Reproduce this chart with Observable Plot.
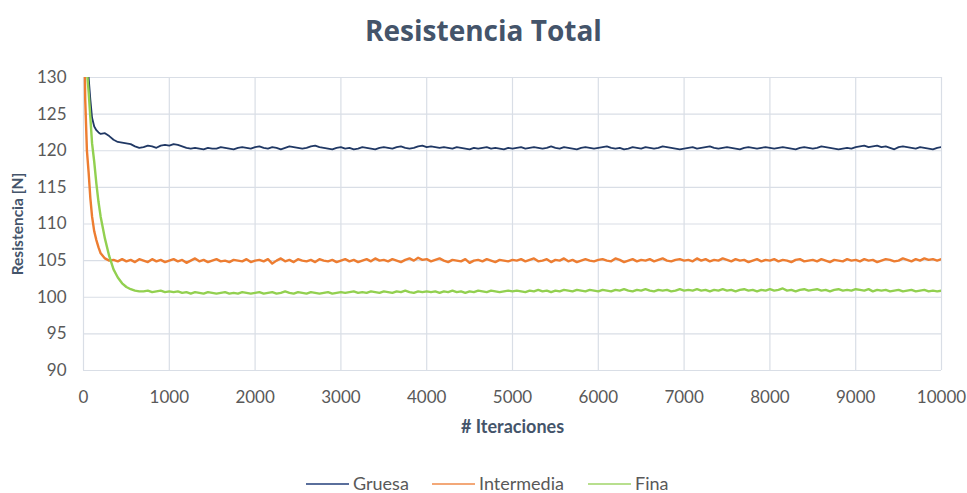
<!DOCTYPE html>
<html>
<head>
<meta charset="utf-8">
<script src="https://cdn.jsdelivr.net/npm/d3@7"></script>
<script src="https://cdn.jsdelivr.net/npm/@observablehq/plot@0.6"></script>
<style>
  html, body { margin: 0; padding: 0; background: #ffffff; }
  #wrap { position: relative; width: 967px; height: 493px; overflow: hidden; font-family: Lato, "Open Sans", sans-serif; }
  #title { position: absolute; top: 10px; left: 0; width: 967px; text-align: center; font-family: "Open Sans", Lato, sans-serif; font-weight: 700; font-size: 28px; line-height: 40px; color: #44546a; }
  #chart { position: absolute; top: 60px; left: 0; }
  .leg { position: absolute; top: 472px; height: 22px; line-height: 22px; font-size: 18px; color: #595959; white-space: nowrap; }
  .leg .sw { display: inline-block; width: 43px; height: 2px; vertical-align: middle; margin-right: 4px; position: relative; top: -1px; }
</style>
</head>
<body>
<div id="wrap">
  <div id="title">Resistencia Total</div>
  <div id="chart"></div>
  <div class="leg" style="left:306px"><span class="sw" style="background:#5a6f9c"></span>Gruesa</div>
  <div class="leg" style="left:432px"><span class="sw" style="background:#f3a878"></span>Intermedia</div>
  <div class="leg" style="left:588px"><span class="sw" style="background:#b8df8e"></span>Fina</div>
</div>
<script>
// ---- data ----
const seriesNames = ["Gruesa", "Intermedia", "Fina"];
const seriesColors = ["#203864", "#ed7d31", "#92d050"];
const xTicks = [0, 1000, 2000, 3000, 4000, 5000, 6000, 7000, 8000, 9000, 10000];
const yTicks = [90, 95, 100, 105, 110, 115, 120, 125, 130];

// iteration sampling: dense during the initial decay, then every 50 iterations
const iterEarly = [0, 20, 40, 60, 80, 100, 125, 150, 175, 200, 250, 300, 350, 400, 450, 500, 550, 600, 650];
const iterStable = d3.range(700, 10001, 50);

const gruesaEarly = [150, 142, 135, 130, 127, 124.5, 123.3, 122.8, 122.5, 122.3, 122.4, 122.0, 121.5, 121.2, 121.1, 121.0, 120.9, 120.6, 120.4];
const gruesaStable = [
  120.5, 120.7, 120.6, 120.4, 120.7, 120.8, 120.7,
  120.9, 120.8, 120.6, 120.4, 120.3, 120.4, 120.3, 120.2, 120.4, 120.3, 120.3, 120.5, 120.4, 120.3, 120.2, 120.4, 120.5, 120.4, 120.3, 120.5,
  120.6, 120.4, 120.3, 120.5, 120.4, 120.2, 120.4, 120.6, 120.5, 120.4, 120.3, 120.4, 120.6, 120.7, 120.5, 120.4, 120.3, 120.2, 120.4, 120.5,
  120.3, 120.4, 120.2, 120.3, 120.5, 120.4, 120.3, 120.2, 120.4, 120.5, 120.4, 120.3, 120.5, 120.6, 120.4, 120.3, 120.4, 120.6, 120.7, 120.5,
  120.6, 120.5, 120.4, 120.5, 120.4, 120.3, 120.5, 120.4, 120.3, 120.2, 120.4, 120.3, 120.4, 120.5, 120.3, 120.4, 120.3, 120.2, 120.4, 120.3,
  120.4, 120.5, 120.3, 120.4, 120.5, 120.4, 120.3, 120.4, 120.6, 120.4, 120.3, 120.5, 120.4, 120.3, 120.2, 120.4, 120.5, 120.4, 120.3, 120.4,
  120.5, 120.6, 120.4, 120.3, 120.4, 120.2, 120.3, 120.5, 120.4, 120.3, 120.5, 120.4, 120.3, 120.4, 120.6, 120.5, 120.4, 120.3, 120.2, 120.3,
  120.4, 120.5, 120.3, 120.4, 120.5, 120.6, 120.4, 120.3, 120.4, 120.5, 120.4, 120.3, 120.2, 120.4, 120.5, 120.4, 120.3, 120.4, 120.5, 120.4,
  120.3, 120.4, 120.5, 120.4, 120.3, 120.2, 120.4, 120.5, 120.4, 120.3, 120.4, 120.6, 120.5, 120.4, 120.3, 120.2, 120.3, 120.4, 120.3, 120.5,
  120.6, 120.7, 120.5, 120.6, 120.7, 120.5, 120.6, 120.4, 120.2, 120.5, 120.6, 120.5, 120.4, 120.3, 120.5, 120.4, 120.3, 120.2, 120.4, 120.5
];

const intermediaEarly = [145, 127, 120, 117, 113.5, 111, 109, 107.8, 106.8, 106, 105.3, 105.0, 105.1, 104.9, 105.2, 104.9, 105.1, 104.8, 105.2];
const intermediaStable = [
  105.0, 104.8, 105.2, 104.9, 105.1, 104.8, 105.0,
  105.2, 104.9, 105.1, 104.7, 105.0, 105.3, 104.9, 105.1, 104.8, 105.0, 105.2, 104.9, 105.0, 104.8, 105.1, 105.0, 104.9, 105.2, 104.8, 105.0,
  105.1, 104.9, 105.2, 104.6, 105.0, 105.3, 104.9, 105.1, 104.8, 105.2, 105.0, 104.9, 105.1, 104.8, 105.2, 105.0, 104.9, 105.1, 104.8, 105.0,
  105.2, 104.9, 105.1, 104.8, 105.0, 105.2, 104.9, 105.3, 105.0, 105.1, 104.9, 105.2, 105.0, 104.8, 105.1, 105.3, 105.0, 105.4, 105.1, 105.2,
  104.9, 105.1, 105.3, 105.0, 104.8, 105.1, 105.0, 104.9, 105.2, 104.7, 105.0, 105.1, 104.9, 105.2, 105.0, 104.8, 105.1, 105.0, 104.9, 105.1,
  105.0, 105.2, 104.9, 105.1, 105.3, 104.9, 105.0, 105.2, 104.8, 105.1, 105.0, 105.3, 104.9, 105.1, 104.8, 105.0, 105.2, 105.0, 104.9, 105.1,
  105.2, 105.0, 104.9, 105.3, 105.1, 104.8, 105.0, 105.2, 104.9, 105.1, 105.0, 105.2, 104.9, 105.1, 105.3, 105.0, 104.9, 105.1, 105.2, 105.0,
  105.1, 104.9, 105.3, 105.0, 105.2, 104.9, 105.1, 105.0, 105.3, 105.1, 104.9, 105.2, 105.0, 105.1, 104.8, 105.0, 105.2, 104.9, 105.1, 105.0,
  105.2, 104.9, 105.1, 105.0, 104.8, 105.1, 105.2, 104.9, 105.0, 105.1, 104.9, 105.2, 105.0, 104.8, 105.1, 105.0, 104.9, 105.2, 105.0, 105.1,
  104.9, 105.2, 105.0, 105.1, 104.8, 105.0, 105.2, 105.1, 104.9, 105.0, 105.3, 105.1, 104.9, 105.2, 105.0, 105.3, 105.1, 105.2, 105.0, 105.2
];

const finaEarly = [150, 140, 131, 128, 124.5, 121, 118.5, 115.5, 113, 111, 108, 105.6, 103.8, 102.7, 101.9, 101.4, 101.1, 100.9, 100.8];
const finaStable = [
  100.8, 100.9, 100.7, 100.8, 100.9, 100.7, 100.8,
  100.7, 100.8, 100.6, 100.7, 100.5, 100.7, 100.6, 100.5, 100.7, 100.6, 100.5, 100.6, 100.7, 100.5, 100.6, 100.5, 100.7, 100.6, 100.5, 100.6,
  100.7, 100.5, 100.6, 100.7, 100.5, 100.6, 100.8, 100.6, 100.5, 100.7, 100.6, 100.5, 100.7, 100.6, 100.5, 100.6, 100.7, 100.5, 100.6, 100.7,
  100.6, 100.7, 100.8, 100.6, 100.7, 100.6, 100.8, 100.7, 100.6, 100.8, 100.7, 100.6, 100.8, 100.7, 100.9, 100.7, 100.6, 100.8, 100.7, 100.8,
  100.7, 100.8, 100.6, 100.8, 100.7, 100.9, 100.7, 100.8, 100.6, 100.8, 100.7, 100.9, 100.8, 100.7, 100.9, 100.8, 100.7, 100.8, 100.9, 100.8,
  100.9, 100.8, 100.7, 100.9, 100.8, 101.0, 100.8, 100.9, 100.7, 100.9, 100.8, 101.0, 100.9, 100.8, 101.0, 100.9, 100.8, 101.0, 100.9, 100.8,
  101.0, 100.9, 100.8, 101.0, 100.9, 101.1, 100.9, 100.8, 101.0, 100.9, 101.1, 100.9, 100.8, 101.0, 100.9, 101.0, 100.8, 100.9, 101.1, 100.9,
  101.0, 100.9, 101.1, 100.9, 101.0, 100.8, 101.0, 100.9, 101.1, 100.9, 101.0, 100.8, 101.0, 101.1, 100.9, 101.0, 100.8, 101.0, 100.9, 101.1,
  100.9, 101.0, 101.2, 100.9, 101.0, 100.8, 101.0, 101.1, 100.9, 101.0, 101.1, 100.9, 101.0, 100.8, 101.0, 101.1, 100.9, 101.0, 100.9, 101.1,
  101.0, 100.9, 101.1, 100.8, 101.0, 100.9, 101.0, 100.8, 100.9, 101.0, 100.8, 100.9, 101.0, 100.8, 100.9, 101.0, 100.8, 100.9, 100.8, 100.9
];

// ---- build tables ----
const iterations = iterEarly.concat(iterStable);
function rows(name, early, stable) {
  const vals = early.concat(stable);
  return iterations.map((it, i) => ({ series: name, iteration: it, value: vals[i] })).filter(d => d.value != null);
}
const data = [
  rows("Gruesa", gruesaEarly, gruesaStable),
  rows("Intermedia", intermediaEarly, intermediaStable),
  rows("Fina", finaEarly, finaStable)
];

const gridColor = "#d9dee6";
const chart = Plot.plot({
  width: 967,
  height: 395,
  marginLeft: 83,
  marginRight: 26,
  marginTop: 17,
  marginBottom: 85,
  style: { fontFamily: "Lato, 'Open Sans', sans-serif", fontSize: "17px", color: "#595959", background: "white", overflow: "visible" },
  x: { domain: [0, 10000], ticks: xTicks, tickFormat: d3.format("d"), tickSize: 0, tickPadding: 20, label: null },
  y: { domain: [90, 130], ticks: yTicks, tickFormat: d3.format("d"), tickSize: 0, tickPadding: 17, label: null },
  marks: [
    Plot.ruleX(xTicks, { stroke: gridColor, strokeWidth: 1.2 }),
    Plot.ruleY(yTicks, { stroke: gridColor, strokeWidth: 1.2 }),
    ...data.map((d, i) => Plot.line(d, {
      x: "iteration", y: "value",
      stroke: seriesColors[i],
      strokeWidth: i === 0 ? 1.8 : 2.4,
      clip: true
    })),
    Plot.text(["Resistencia [N]"], { frameAnchor: "left", dx: -65, rotate: -90, textAnchor: "middle", lineAnchor: "middle", fontWeight: "bold", fontSize: 15.5, fill: "#44546a" }),
    Plot.text(["# Iteraciones"], { frameAnchor: "bottom", dy: 57, textAnchor: "middle", lineAnchor: "middle", fontWeight: "bold", fontSize: 18, fill: "#44546a" })
  ]
});
document.getElementById("chart").appendChild(chart);
</script>
</body>
</html>
